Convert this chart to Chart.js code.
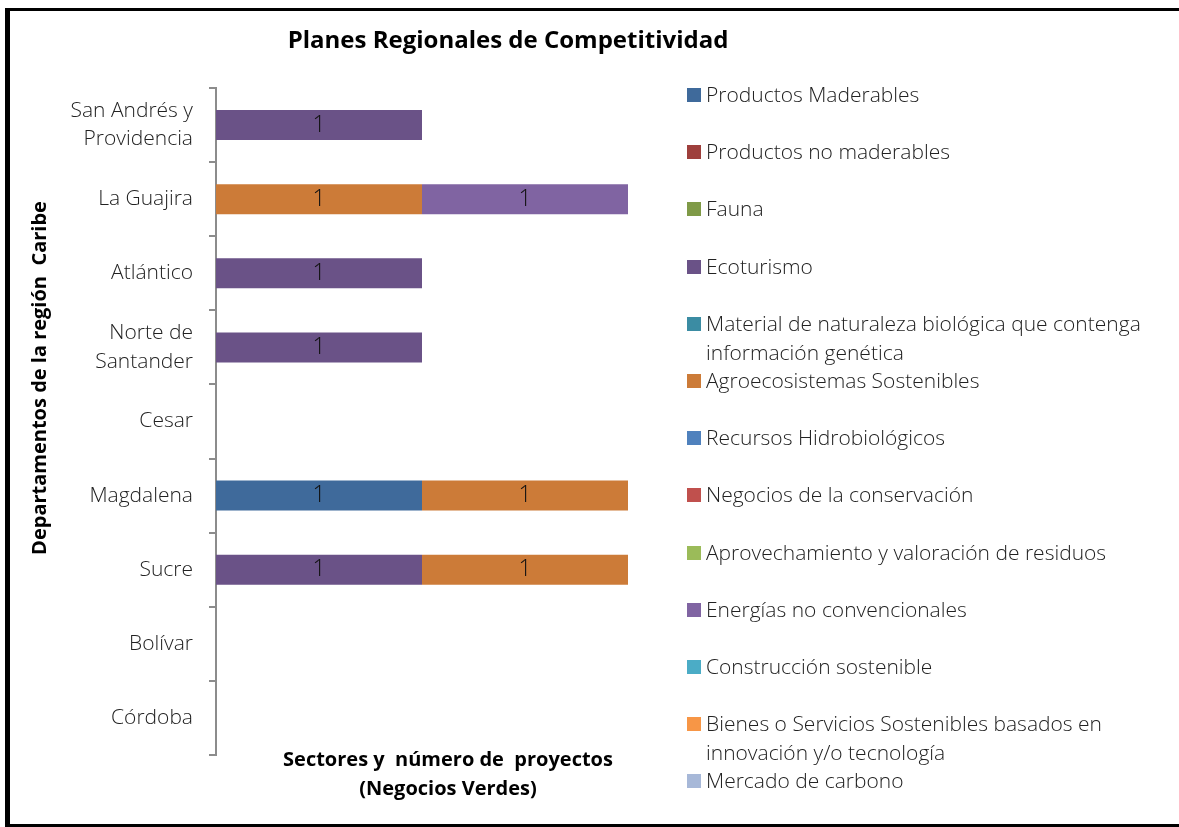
<!DOCTYPE html>
<html>
<head>
<meta charset="utf-8">
<script src="https://cdn.jsdelivr.net/npm/chart.js@4/dist/chart.umd.min.js"></script>
<style>
  body { margin: 0; background: #fff; overflow: hidden; }
  #wrap { position: relative; width: 1179px; height: 827px; }
  #frame {
    position: absolute; left: 5px; top: 8px; width: 1200px; height: 813px;
    border-left: 5px solid #000; border-top: 3px solid #000; border-bottom: 3px solid #000;
    pointer-events: none;
  }
  #legend {
    position: absolute; left: 687px; top: 80px; width: 480px;
    font-family: "Open Sans", Lato, sans-serif; font-weight: 300; font-size: 21px; color: #222;
  }
  .item { position: relative; height: 57.2px; }
  .sw { position: absolute; left: 0; top: 8px; width: 14px; height: 14px; }
  .txt { position: absolute; left: 19px; top: 0; width: 455px; line-height: 29px; }
</style>
</head>
<body>
<div id="wrap">
  <canvas id="c" width="1179" height="827"></canvas>
  <div id="frame"></div>
  <div id="legend"></div>
</div>
<script>
const departamentos = [
  ["San Andrés y", "Providencia"],
  "La Guajira",
  "Atlántico",
  ["Norte de", "Santander"],
  "Cesar",
  "Magdalena",
  "Sucre",
  "Bolívar",
  "Córdoba"
];

const sectores = [
  "Productos Maderables",
  "Productos no maderables",
  "Fauna",
  "Ecoturismo",
  "Material de naturaleza biológica que contenga información genética",
  "Agroecosistemas Sostenibles",
  "Recursos Hidrobiológicos",
  "Negocios de la conservación",
  "Aprovechamiento y valoración de residuos",
  "Energías no convencionales",
  "Construcción sostenible",
  "Bienes o Servicios Sostenibles basados en innovación y/o tecnología",
  "Mercado de carbono"
];

const colores = [
  "#3F6A9B", "#9E3F3C", "#7F9A47", "#6A5287", "#3B8CA3", "#CC7B38", "#4F81BD",
  "#C0504D", "#9BBB59", "#8064A2", "#4BACC6", "#F79646", "#A7B8D8"
];

// one array per sector, one value per departamento (top to bottom)
const productosMaderables   = [0, 0, 0, 0, 0, 1, 0, 0, 0];
const productosNoMaderables = [0, 0, 0, 0, 0, 0, 0, 0, 0];
const fauna                 = [0, 0, 0, 0, 0, 0, 0, 0, 0];
const ecoturismo            = [1, 0, 1, 1, 0, 0, 1, 0, 0];
const materialBiologico     = [0, 0, 0, 0, 0, 0, 0, 0, 0];
const agroecosistemas       = [0, 1, 0, 0, 0, 1, 1, 0, 0];
const recursosHidro         = [0, 0, 0, 0, 0, 0, 0, 0, 0];
const negociosConservacion  = [0, 0, 0, 0, 0, 0, 0, 0, 0];
const aprovechamiento       = [0, 0, 0, 0, 0, 0, 0, 0, 0];
const energias              = [0, 1, 0, 0, 0, 0, 0, 0, 0];
const construccion          = [0, 0, 0, 0, 0, 0, 0, 0, 0];
const bienesServicios       = [0, 0, 0, 0, 0, 0, 0, 0, 0];
const mercadoCarbono        = [0, 0, 0, 0, 0, 0, 0, 0, 0];

const valores = [
  productosMaderables, productosNoMaderables, fauna, ecoturismo, materialBiologico,
  agroecosistemas, recursosHidro, negociosConservacion, aprovechamiento, energias,
  construccion, bienesServicios, mercadoCarbono
];

const boldFont = '"Open Sans", sans-serif';

// "1" labels in the middle of each bar segment
const valueLabels = {
  id: "valueLabels",
  afterDatasetsDraw(chart) {
    const ctx = chart.ctx;
    ctx.save();
    ctx.font = '300 23px "Open Sans", Lato, sans-serif';
    ctx.fillStyle = "#111";
    ctx.textAlign = "center";
    ctx.textBaseline = "middle";
    chart.data.datasets.forEach((ds, i) => {
      chart.getDatasetMeta(i).data.forEach((bar, j) => {
        if (!ds.data[j]) return;
        ctx.fillText(String(ds.data[j]), (bar.x + bar.base) / 2, bar.y);
      });
    });
    ctx.restore();
  }
};

// title and axis titles placed like the original
const texts = {
  id: "texts",
  afterDraw(chart) {
    const ctx = chart.ctx;
    ctx.save();
    ctx.fillStyle = "#000";
    ctx.textAlign = "center";
    ctx.textBaseline = "middle";
    ctx.font = "bold 24px " + boldFont;
    ctx.fillText("Planes Regionales de Competitividad", 508, 41);
    ctx.font = "bold 20px " + boldFont;
    ctx.fillText("Sectores y  número de  proyectos", 448, 760);
    ctx.fillText("(Negocios Verdes)", 448, 789);
    ctx.translate(40, 378);
    ctx.rotate(-Math.PI / 2);
    ctx.fillText("Departamentos de la región  Caribe", 0, 0);
    ctx.restore();
  }
};

const chart = new Chart(document.getElementById("c"), {
  type: "bar",
  data: {
    labels: departamentos,
    datasets: sectores.map((s, i) => ({
      label: s,
      data: valores[i],
      backgroundColor: colores[i],
      barPercentage: 0.405,
      categoryPercentage: 1
    }))
  },
  options: {
    indexAxis: "y",
    responsive: false,
    animation: false,
    layout: { padding: { top: 88, right: 551, bottom: 72, left: 0 } },
    plugins: {
      legend: { display: false },
      tooltip: { enabled: false }
    },
    scales: {
      x: { stacked: true, display: false, min: 0, max: 2 },
      y: {
        stacked: true,
        afterFit(scale) { scale.width = 216; },
        border: { display: true, color: "#8c8c8c", width: 2 },
        grid: { offset: true, drawOnChartArea: false, drawTicks: true, tickLength: 7, color: "#8c8c8c", lineWidth: 2 },
        ticks: {
          padding: 16,
          color: "#222",
          font: { family: '"Open Sans", Lato, sans-serif', weight: 300, size: 21, lineHeight: 1.35 }
        }
      }
    }
  },
  plugins: [valueLabels, texts]
});

// legend on the right
const legend = document.getElementById("legend");
sectores.forEach((s, i) => {
  const item = document.createElement("div");
  item.className = "item";
  item.innerHTML = '<div class="sw" style="background:' + colores[i] + '"></div><div class="txt">' + s + "</div>";
  legend.appendChild(item);
});
</script>
</body>
</html>
